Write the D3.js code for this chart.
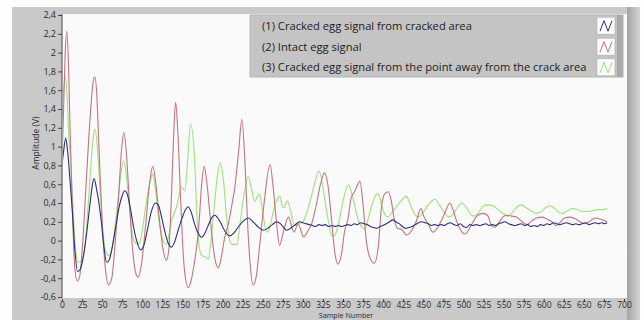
<!DOCTYPE html>
<html>
<head>
<meta charset="utf-8">
<script src="https://cdn.jsdelivr.net/npm/d3@7"></script>
<style>
  html, body { margin: 0; padding: 0; background: #ffffff; }
  svg { display: block; }
  text { font-family: "Open Sans", "Noto Sans", sans-serif; }
</style>
</head>
<body>
<svg id="chart" width="644" height="320"></svg>
<script>
// Signal traces: [sample number, amplitude in volts]
const crackedArea = [
  [0,0.80],[2,0.95],[4.6,1.09],[7,0.95],[10,0.64],[13,0.30],[16,-0.10],[19.5,-0.33],[23,-0.30],[27,-0.15],
  [31,0.10],[35,0.40],[38,0.60],[40,0.66],[43,0.55],[46,0.40],[49,0.20],[52,-0.05],[55.6,-0.23],[59,-0.20],
  [63,-0.05],[67,0.15],[71,0.35],[75,0.48],[78,0.53],[81,0.50],[85,0.35],[89,0.15],[93,0.00],[98,-0.10],
  [102,-0.05],[106,0.10],[111,0.30],[116,0.40],[120,0.38],[124,0.25],[128,0.10],[132,-0.02],[136.6,-0.07],[140,-0.02],
  [145,0.12],[150,0.25],[154,0.33],[157,0.36],[161,0.30],[165,0.18],[170,0.07],[174,0.035],[178,0.08],[183,0.18],
  [187,0.25],[190.5,0.27],[194,0.24],[197,0.20],[203,0.10],[209,0.05],[214,0.08],[220,0.15],[226,0.21],[232,0.24],
  [238,0.20],[245,0.14],[251,0.11],[256,0.13],[262,0.17],[267,0.20],[272,0.18],[276,0.14],[280,0.11],[286,0.14],
  [292,0.18],[296,0.20],[300,0.19],[304,0.18],[308,0.17],[312,0.16],[316,0.15],[320,0.17],[324,0.16],[328,0.17],
  [332,0.15],[336,0.16],[340,0.15],[344,0.16],[348,0.15],[352,0.16],[356,0.17],[360,0.16],[364,0.18],[368,0.17],
  [372,0.19],[376,0.18],[380,0.17],[384,0.15],[388,0.14],[392,0.13],[396,0.15],[400,0.16],[404,0.18],[408,0.20],
  [412,0.22],[416,0.20],[420,0.18],[424,0.15],[428,0.13],[432,0.14],[436,0.15],[440,0.17],[444,0.19],[448,0.20],
  [452,0.19],[456,0.18],[460,0.16],[464,0.17],[468,0.16],[472,0.17],[476,0.16],[480,0.18],[484,0.19],[488,0.17],
  [492,0.16],[496,0.18],[500,0.15],[504,0.14],[508,0.17],[512,0.16],[516,0.17],[520,0.16],[524,0.17],[528,0.18],
  [532,0.16],[536,0.17],[540,0.16],[544,0.18],[548,0.19],[552,0.20],[556,0.18],[560,0.17],[564,0.16],[568,0.17],
  [572,0.18],[576,0.16],[580,0.17],[584,0.15],[588,0.16],[592,0.15],[596,0.17],[600,0.16],[604,0.18],[608,0.17],
  [612,0.19],[616,0.18],[620,0.17],[624,0.18],[628,0.19],[632,0.18],[636,0.17],[640,0.18],[644,0.17],[648,0.18],
  [652,0.19],[656,0.17],[660,0.18],[664,0.19],[668,0.18],[672,0.19],[676,0.18],[679,0.19]
];

const intactEgg = [
  [0,0.85],[2,1.40],[4,2.00],[6,2.23],[8,1.90],[10,1.20],[13,0.30],[16,-0.30],[19,-0.43],[22,-0.38],
  [26,0.00],[30,0.60],[35,1.30],[39,1.70],[41,1.74],[43,1.60],[46,1.00],[50,0.20],[54,-0.30],[58,-0.47],
  [62,-0.40],[66,-0.05],[70,0.40],[74,0.95],[77,1.15],[80,0.95],[84,0.40],[88,-0.10],[92,-0.35],[95,-0.39],
  [99,-0.25],[104,0.15],[109,0.60],[113,0.79],[117,0.60],[121,0.25],[126,-0.10],[130,-0.21],[133,-0.10],[136,0.40],
  [139,1.10],[141.5,1.47],[144,1.20],[147,0.60],[150,0.00],[153,-0.35],[157,-0.50],[161,-0.42],[165,-0.23],[170,0.11],
  [174,0.60],[177,0.79],[180,0.65],[184,0.30],[188,-0.05],[192,-0.25],[195,-0.29],[199,-0.15],[203,0.05],[207,0.17],
  [212,0.40],[215,0.55],[220,0.95],[224,1.29],[228,0.81],[231,0.21],[234,-0.21],[238,-0.47],[242,-0.38],[246,-0.07],
  [252,0.42],[259,0.81],[263,0.57],[267,0.21],[271,-0.05],[276,0.10],[282,0.25],[289,0.09],[294,0.18],[301,0.04],
  [306,0.10],[311,0.18],[316,0.35],[322,0.60],[327,0.72],[331,0.60],[336,0.20],[340,-0.14],[344,-0.25],[348,-0.15],
  [352,0.10],[356,0.22],[360,0.45],[365,0.53],[371,0.63],[375,0.38],[379,0.00],[383,-0.17],[389,-0.24],[394,-0.06],
  [398,0.36],[402,0.50],[406,0.52],[410,0.43],[414,0.22],[418,0.13],[423,0.12],[429,0.06],[435,0.10],[441,0.20],
  [447,0.34],[451,0.25],[456,0.18],[462,0.09],[468,0.14],[474,0.24],[479,0.34],[483,0.40],[487,0.33],[491,0.22],
  [496,0.12],[502,0.07],[507,0.12],[512,0.20],[518,0.27],[524,0.29],[530,0.27],[535,0.16],[539,0.14],[544,0.19],
  [549,0.25],[554,0.27],[560,0.26],[566,0.25],[572,0.21],[579,0.17],[585,0.21],[591,0.24],[598,0.25],[604,0.23],
  [610,0.20],[615,0.16],[620,0.19],[626,0.24],[633,0.25],[640,0.23],[647,0.19],[652,0.18],[658,0.21],[664,0.24],
  [670,0.23],[676,0.21],[679,0.20]
];

const crackedAway = [
  [0,1.35],[2,1.60],[4,1.74],[6,1.60],[8,1.20],[11,0.81],[14,0.30],[17,-0.10],[20,-0.23],[24,-0.22],
  [28,-0.10],[32,0.30],[36,0.80],[39,1.10],[41,1.19],[44,1.00],[47,0.60],[51,0.10],[54,-0.10],[58,-0.16],
  [62,-0.10],[66,0.15],[70,0.45],[74,0.75],[77,0.85],[80,0.70],[84,0.35],[88,0.05],[92,-0.03],[95,-0.04],
  [99,0.05],[104,0.35],[109,0.60],[113,0.71],[117,0.50],[121,0.20],[126,0.00],[130,-0.04],[136.5,0.21],[143,0.37],
  [149,0.57],[153,0.53],[157,0.92],[160,1.24],[165,0.89],[168,0.28],[171,-0.07],[174,-0.16],[178,-0.17],[182,-0.20],
  [185,-0.05],[189,0.30],[193,0.65],[197,0.83],[201,0.65],[205,0.25],[209,0.00],[212,-0.04],[218,-0.04],[222,0.20],
  [227,0.50],[232,0.68],[236,0.55],[240,0.42],[243,0.46],[246,0.50],[250,0.30],[255,0.09],[259,0.15],[263,0.30],
  [267,0.42],[271.5,0.47],[275,0.35],[278,0.38],[281,0.42],[285,0.30],[290,0.16],[295,0.18],[300,0.20],[305,0.30],
  [310,0.45],[315,0.62],[320,0.74],[324,0.62],[328,0.40],[332,0.20],[336,0.05],[340,0.06],[345,0.20],[350,0.42],
  [354,0.55],[357,0.59],[361,0.50],[365,0.36],[369,0.22],[373,0.15],[377,0.12],[381,0.22],[386,0.38],[390,0.47],
  [394,0.50],[398,0.38],[402,0.28],[406,0.25],[411,0.30],[416,0.35],[422,0.42],[429,0.47],[434,0.38],[440,0.27],
  [444,0.25],[450,0.30],[456,0.38],[462,0.43],[465,0.44],[470,0.38],[476,0.30],[482,0.25],[487,0.28],[493,0.36],
  [498,0.40],[504,0.35],[510,0.27],[514,0.26],[519,0.30],[525,0.37],[531,0.38],[537,0.37],[543,0.33],[549,0.29],
  [556,0.26],[562,0.31],[567,0.36],[572,0.38],[578,0.35],[584,0.32],[591,0.29],[597,0.31],[602,0.35],[608,0.37],
  [614,0.34],[619,0.30],[624,0.29],[630,0.32],[636,0.34],[642,0.33],[648,0.31],[655,0.31],[661,0.32],[668,0.33],
  [673,0.33],[679,0.34]
];

const seriesNames = [
  "(1) Cracked egg signal from cracked area",
  "(2) Intact egg signal",
  "(3) Cracked egg signal from the point away from the crack area"
];
const seriesColors = ["#2e2e7a", "#c27480", "#9fe07e"];
const seriesData = [crackedArea, intactEgg, crackedAway];

const yTicks = [-0.6,-0.4,-0.2,0,0.2,0.4,0.6,0.8,1,1.2,1.4,1.6,1.8,2,2.2,2.4];
const xTicks = d3.range(0, 701, 25);
const xTitle = "Sample Number";
const yTitle = "Amplitude (V)";

const svg = d3.select("#chart");

// panel frame
svg.append("rect").attr("x", 0).attr("y", 0).attr("width", 644).attr("height", 320).attr("fill", "#fdfdfd");
svg.append("rect").attr("x", 12).attr("y", 7).attr("width", 628).attr("height", 313).attr("fill", "#c9c9c9");
const grad = svg.append("defs").append("linearGradient").attr("id", "edge").attr("x1", 0).attr("x2", 1);
grad.append("stop").attr("offset", 0).attr("stop-color", "#a4a4a4");
grad.append("stop").attr("offset", 1).attr("stop-color", "#d4d4d4");
svg.append("rect").attr("x", 627).attr("y", 7).attr("width", 13).attr("height", 313).attr("fill", "url(#edge)");

// plot area
const plot = { left: 62, top: 14, right: 627, bottom: 298 };
svg.append("rect")
  .attr("x", plot.left).attr("y", plot.top)
  .attr("width", plot.right - plot.left).attr("height", plot.bottom - plot.top)
  .attr("fill", "#fafafa");

const x = d3.scaleLinear().domain([0, 700]).range([62, 624]);
const y = d3.scaleLinear().domain([-0.6, 2.4]).range([297, 15]);

const fmt = d => (Math.round(d * 10) / 10).toString().replace(".", ",");

const yAxis = svg.append("g").attr("transform", `translate(${plot.left},0)`)
  .call(d3.axisLeft(y).tickValues(yTicks).tickFormat(fmt).tickSize(4).tickPadding(2));
yAxis.select(".domain").attr("d", `M0,${plot.top}V${plot.bottom}`).attr("stroke", "#4a4a4a");
yAxis.selectAll(".tick line").attr("stroke", "#444");
yAxis.selectAll(".tick text").attr("font-size", 9).attr("fill", "#2a2a2a")
  .style("font-family", '"Open Sans", sans-serif');

const xAxis = svg.append("g").attr("transform", `translate(0,${plot.bottom + 1})`)
  .call(d3.axisBottom(x).tickValues(xTicks).tickFormat(d3.format("d")).tickSize(3).tickPadding(0));
xAxis.select(".domain").remove();
xAxis.selectAll(".tick line").attr("stroke", "#444");
xAxis.selectAll(".tick text").attr("font-size", 8.5).attr("fill", "#2a2a2a")
  .style("font-family", '"Open Sans", sans-serif');

// axis titles
svg.append("text")
  .attr("transform", "translate(39,143) rotate(-90)")
  .attr("text-anchor", "middle").attr("font-size", 8.5).attr("fill", "#2a2a2a")
  .text(yTitle);
svg.append("text")
  .attr("x", 346).attr("y", 318.3)
  .attr("text-anchor", "middle").attr("font-size", 7.2).attr("fill", "#2a2a2a")
  .text(xTitle);

// traces
svg.append("clipPath").attr("id", "plotclip").append("rect")
  .attr("x", plot.left + 1).attr("y", plot.top).attr("width", plot.right - plot.left - 1).attr("height", plot.bottom - plot.top);
const line = d3.line().x(d => x(d[0])).y(d => y(d[1])).curve(d3.curveMonotoneX);
const traces = svg.append("g").attr("clip-path", "url(#plotclip)");
// draw order: green, red, blue on top
[2, 1, 0].forEach(i => {
  traces.append("path")
    .datum(seriesData[i])
    .attr("d", line)
    .attr("fill", "none")
    .attr("stroke", seriesColors[i])
    .attr("stroke-width", 1.1)
    .attr("stroke-linejoin", "round");
});

// legend
const legend = svg.append("g");
legend.append("rect").attr("x", 250).attr("y", 15).attr("width", 373).attr("height", 62)
  .attr("fill", "#c4c4c4").attr("stroke", "#b4b4b4");
legend.append("rect").attr("x", 617).attr("y", 15).attr("width", 6).attr("height", 62).attr("fill", "#a9a9a9");
const rowY = [25.7, 46.7, 67.3];
seriesNames.forEach((name, i) => {
  legend.append("text")
    .attr("x", 262).attr("y", rowY[i]).attr("dy", "0.35em")
    .attr("font-size", 11.5).attr("fill", "#1c1c1c")
    .text(name);
  const g = legend.append("g").attr("transform", `translate(597,${rowY[i] - 8.5})`);
  g.append("rect").attr("width", 18).attr("height", 17).attr("fill", "#fbfbfb").attr("stroke", "#b0b0b0").attr("stroke-width", 0.6);
  g.append("path").attr("d", "M3,14 L7,3.5 L11,14 L15,3.5")
    .attr("fill", "none").attr("stroke", seriesColors[i]).attr("stroke-width", 1);
});
// scale legend font so the longest row spans its slot
const longest = legend.selectAll("text").nodes()[2];
const w = longest.getComputedTextLength();
const fs = 11.5 * 325 / w;
legend.selectAll("text").attr("font-size", fs);
</script>
</body>
</html>
